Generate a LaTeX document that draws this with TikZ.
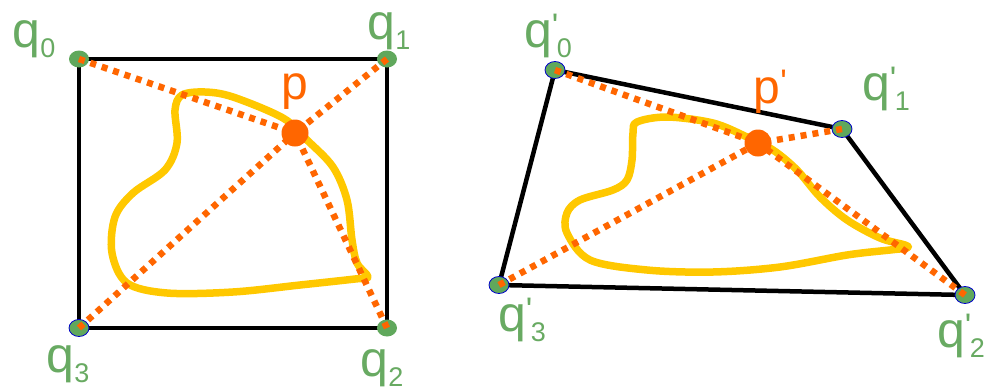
\documentclass[tikz,border=0pt]{standalone}
\usepackage{fontspec}
\setmainfont{Liberation Sans}
\usetikzlibrary{shapes.geometric}
\definecolor{qgreen}{RGB}{104,170,98}
\definecolor{dotgreen}{RGB}{96,168,92}
\definecolor{porange}{RGB}{255,102,0}
\definecolor{cyellow}{RGB}{255,200,0}
\newcommand{\qsub}[1]{q\raisebox{-0.2em}{\fontsize{27}{27}\selectfont #1}}
\newcommand{\tick}{\fontsize{34}{34}\selectfont\textquotesingle}
\newcommand{\qpsub}[1]{q\rlap{\raisebox{0.2em}{\tick}}\raisebox{-0.2em}{\fontsize{27}{27}\selectfont\hspace{0.18em}#1}}
\tikzset{
  quad/.style={draw=black, line width=4.5pt, line join=miter},
  ray/.style={draw=porange, line width=6.5pt, dash pattern=on 6pt off 6pt},
  blob/.style={draw=cyellow, line width=7.5pt, line join=round},
  gdot/.style={ellipse, fill=dotgreen, minimum width=20pt, minimum height=17pt, inner sep=0pt},
  bdot/.style={gdot, draw=blue!80!black, line width=0.8pt},
  pdot/.style={circle, fill=porange, minimum size=27pt, inner sep=0pt},
  qlab/.style={text=qgreen, font=\fontsize{50}{50}\selectfont, inner sep=0pt},
  plab/.style={text=porange, font=\fontsize{48}{48}\selectfont, inner sep=0pt},
}
\begin{document}
\begin{tikzpicture}[x=1pt,y=-1pt]
\useasboundingbox (0,0) rectangle (984,391);
% ---------- left picture ----------
\coordinate (A0) at (79,59);
\coordinate (A1) at (387,59);
\coordinate (A2) at (387,328);
\coordinate (A3) at (79,328);
\coordinate (P) at (295,133);
\draw[quad] (A0) -- (A1) -- (A2) -- (A3) -- cycle;
\draw[blob] plot[smooth cycle, tension=0.55] coordinates {
 (182,95) (205,92) (233,97) (283,118) (307,140) (333,167) (347,200)
 (352,240) (357,263) (368,277) (355,279) (300,285) (233,292) (167,293)
 (127,283) (112,253) (115,217) (133,193) (165,170) (177,143) (175,110)};
\node[gdot] (a0) at (A0) {};
\node[gdot] (a1) at (A1) {};
\node[gdot] (a2) at (A2) {};
\node[bdot] (a3) at (A3) {};
\draw[ray] (a0.center) -- (P);
\draw[ray] (a1.center) -- (P);
\draw[ray] (a2.center) -- (P);
\draw[ray] (a3.center) -- (P);
\node[pdot] (p) at (P) {};
\node[plab] (lp) at (295,92) {p};
\node[qlab] (l0) at (34,39) {\qsub{0}};
\node[qlab] (l1) at (389,31) {\qsub{1}};
\node[qlab] (l2) at (382,368) {\qsub{2}};
\node[qlab] (l3) at (68,364) {\qsub{3}};
% ---------- right picture ----------
\coordinate (B0) at (555,70);
\coordinate (B1) at (842,129);
\coordinate (B2) at (965,295);
\coordinate (B3) at (499,285);
\coordinate (Q) at (758,143);
\draw[quad] (B0) -- (B1) -- (B2) -- (B3) -- cycle;
\draw[blob] plot[smooth cycle, tension=0.55] coordinates {
 (637,122) (667,117) (713,123) (747,137) (773,150) (797,170) (820,197)
 (847,220) (880,238) (905,245) (907,248) (890,250) (847,255) (780,267)
 (713,272) (647,270) (590,260) (567,233) (567,213) (580,200) (613,190)
 (627,180) (632,160) (633,133)};
\node[bdot] (b0) at (B0) {};
\node[bdot] (b1) at (B1) {};
\node[bdot] (b2) at (B2) {};
\node[bdot] (b3) at (B3) {};
\draw[ray] (b0.center) -- (Q);
\draw[ray] (b1.center) -- (Q);
\draw[ray] (b2.center) -- (Q);
\draw[ray] (b3.center) -- (Q);
\node[pdot] (q) at (Q) {};
\node[plab] (lq) at (767,92) {p\rlap{\raisebox{0.2em}{\tick}}};
\node[qlab] (m0) at (548,36) {\qpsub{0}};
\node[qlab] (m1) at (886,89) {\qpsub{1}};
\node[qlab] (m2) at (961,336) {\qpsub{2}};
\node[qlab] (m3) at (522,320) {\qpsub{3}};
\end{tikzpicture}
\end{document}
